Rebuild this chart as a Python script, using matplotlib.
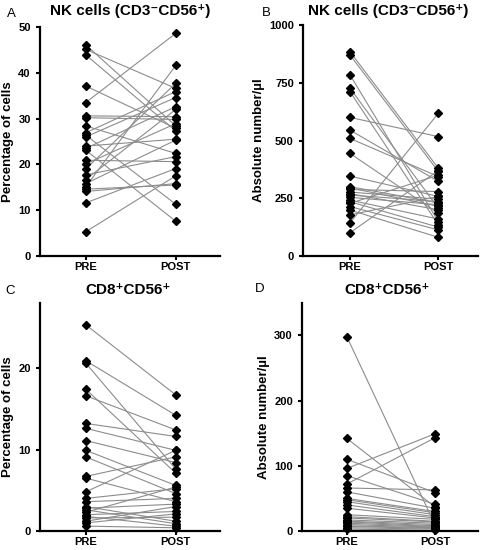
import matplotlib.pyplot as plt

plt.rcParams['font.family'] = ['Liberation Sans', 'DejaVu Sans']

# x categories
groups = ["PRE", "POST"]

# panel A: NK cells, percentage (paired PRE -> POST)
nk_pct_pre = [46.1, 45.1, 43.9, 37.1, 33.5, 30.6, 30.2, 28.4, 26.9, 26.4, 26.0, 24.0, 23.5,
              23.1, 20.9, 20.1, 19.0, 17.7, 16.7, 15.8, 15.1, 14.6, 14.1, 11.6, 5.3]
nk_pct_post = [28.4, 36.6, 27.3, 27.9, 48.6, 30.4, 29.8, 22.4, 35.9, 11.3, 34.6, 25.5, 32.6,
               7.6, 20.6, 28.9, 37.7, 21.7, 32.0, 25.3, 41.6, 15.5, 15.8, 19.1, 17.5]

# panel B: NK cells, absolute number
nk_abs_pre = [884, 870, 784, 726, 711, 600, 545, 509, 444, 346, 300, 295, 288, 277, 270,
              264, 254, 242, 235, 228, 214, 199, 178, 144, 101]
nk_abs_post = [380, 366, 149, 207, 135, 517, 323, 344, 185, 258, 230, 215, 279, 246, 200,
               236, 222, 160, 125, 350, 113, 81, 258, 618, 370]

# panel C: CD8+CD56+, percentage
cd8_pct_pre = [25.3, 20.9, 20.6, 17.4, 16.6, 13.2, 12.6, 11.1, 9.9, 9.1, 6.7, 6.5, 4.8,
               4.0, 3.6, 3.0, 2.8, 2.6, 2.3, 2.0, 1.8, 1.6, 1.2, 1.0, 0.6]
cd8_pct_post = [16.7, 14.2, 7.6, 7.1, 12.4, 11.6, 9.9, 8.4, 5.6, 4.6, 9.1, 3.6, 9.9,
                5.2, 4.0, 1.2, 3.3, 0.9, 5.4, 2.4, 0.6, 1.7, 3.0, 2.1, 0.4]

# panel D: CD8+CD56+, absolute number
cd8_abs_pre = [298, 142, 110, 96, 85, 72, 66, 60, 50, 48, 45, 40, 35, 25, 22, 20, 17, 15,
               14, 12, 10, 8, 7, 5, 3]
cd8_abs_post = [10, 37, 59, 149, 41, 143, 63, 35, 30, 28, 25, 22, 20, 18, 15, 14, 12, 10,
                8, 7, 6, 5, 4, 3, 1]

nk_title = "NK cells (CD3\u207bCD56\u207a)"
cd8_title = "CD8\u207aCD56\u207a"

panels = [
    ("A", nk_title, "Percentage of cells",
     nk_pct_pre, nk_pct_post, (0, 50), [0, 10, 20, 30, 40, 50],
     [0.083, 0.5345, 0.375, 0.4165], (0.49, 2.49)),
    ("B", nk_title, "Absolute number/\u00b5l",
     nk_abs_pre, nk_abs_post, (0, 1000), [0, 250, 500, 750, 1000],
     [0.631, 0.5345, 0.365, 0.42], (0.466, 2.45)),
    ("C", cd8_title, "Percentage of cells",
     cd8_pct_pre, cd8_pct_post, (0, 28), [0, 10, 20],
     [0.083, 0.0345, 0.375, 0.415], (0.49, 2.49)),
    ("D", cd8_title, "Absolute number/\u00b5l",
     cd8_abs_pre, cd8_abs_post, (0, 350), [0, 100, 200, 300],
     [0.629, 0.0345, 0.367, 0.415], (0.49, 2.49)),
]

fig = plt.figure(figsize=(4.8, 5.5), dpi=100)

letter_pos = {"A": (7, 14), "B": (262, 13), "C": (5, 291), "D": (255, 289)}
title_pos = {"A": (130, 11), "B": (388, 11), "C": (128, 290), "D": (387, 290)}

for letter, title, ylabel, pre, post, ylim, yticks, rect, xlim in panels:
    ax = fig.add_axes(rect)
    for a, b in zip(pre, post):
        ax.plot([1, 2], [a, b], color="#8c8c8c", lw=0.8, zorder=1)
    ax.plot([1] * len(pre), pre, "D", color="black", ms=4.4, zorder=2, clip_on=False)
    ax.plot([2] * len(post), post, "D", color="black", ms=4.4, zorder=2, clip_on=False)
    ax.set_xlim(*xlim)
    ax.set_ylim(*ylim)
    ax.set_xticks([1, 2])
    ax.set_xticklabels(groups)
    ax.set_yticks(yticks)
    for side in ["top", "right"]:
        ax.spines[side].set_visible(False)
    for side in ["left", "bottom"]:
        ax.spines[side].set_linewidth(1.6)
    ax.tick_params(width=1.5, length=3, labelsize=8)
    ax.tick_params(axis="x", pad=1.5)
    for lab in ax.get_xticklabels() + ax.get_yticklabels():
        lab.set_fontweight("bold")
    ax.set_ylabel(ylabel, fontsize=9.5, fontweight="bold", labelpad=3)

    lx, ly = letter_pos[letter]
    fig.text(lx / 480, 1 - ly / 550, letter, fontsize=9.5, ha="left", va="center")
    tx, ty = title_pos[letter]
    fig.text(tx / 480, 1 - ty / 550, title, fontsize=11, fontweight="bold",
             ha="center", va="center")

fig.savefig("out.png", dpi=100)
